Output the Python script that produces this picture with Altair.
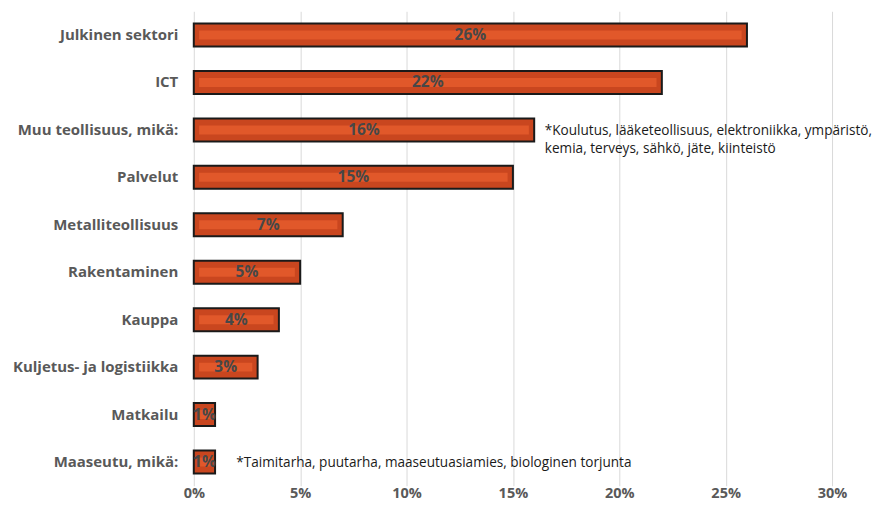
import altair as alt
import pandas as pd

categories = ["Julkinen sektori", "ICT", "Muu teollisuus, mikä:", "Palvelut",
              "Metalliteollisuus", "Rakentaminen", "Kauppa",
              "Kuljetus- ja logistiikka", "Matkailu", "Maaseutu, mikä:"]
values = [0.26, 0.22, 0.16, 0.15, 0.07, 0.05, 0.04, 0.03, 0.01, 0.01]
labels = ["26%", "22%", "16%", "15%", "7%", "5%", "4%", "3%", "1%", "1%"]

note_cats = ["Muu teollisuus, mikä:", "Maaseutu, mikä:"]
note_texts = [["*Koulutus, lääketeollisuus, elektroniikka, ympäristö,",
               "kemia, terveys, sähkö, jäte, kiinteistö"],
              ["*Taimitarha, puutarha, maaseutuasiamies, biologinen torjunta"]]
note_x = [0.165, 0.02]

df = pd.DataFrame({"cat": categories, "val": values, "lab": labels})
notes = pd.DataFrame({"cat": note_cats, "txt": note_texts, "nx": note_x})

FONT = "Open Sans"
xscale = alt.Scale(domain=[0, 0.30])

base = alt.Chart(df)

outer = base.mark_bar(size=23, fill="#C9461F", stroke="#1a1a1a", strokeWidth=2).encode(
    x=alt.X("val:Q", scale=xscale, title=None,
            axis=alt.Axis(format=".0%", values=[0, 0.05, 0.10, 0.15, 0.20, 0.25, 0.30],
                          grid=True, gridColor="#d9d9d9", gridWidth=1,
                          domain=False, ticks=False, labelPadding=1, labelFlush=False,
                          labelFont=FONT, labelFontSize=14.5, labelFontWeight="bold",
                          labelColor="#595959")),
    y=alt.Y("cat:N", sort=categories, title=None,
            axis=alt.Axis(domain=False, ticks=False, labelPadding=16,
                          labelFont=FONT, labelFontSize=15, labelFontWeight="bold",
                          labelColor="#595959", labelLimit=300)),
)

inner = base.transform_calculate(
    s="0.0025", e="max(datum.val - 0.0025, 0.0025)"
).mark_bar(size=9, fill="#E35A2B", opacity=0.9).encode(
    x=alt.X("s:Q", scale=xscale),
    x2="e:Q",
    y=alt.Y("cat:N", sort=categories),
)

text = base.transform_calculate(mid="datum.val / 2").mark_text(
    font=FONT, fontSize=15.5, fontWeight="bold", color="#474747", align="center", baseline="middle"
).encode(
    x=alt.X("mid:Q", scale=xscale),
    y=alt.Y("cat:N", sort=categories),
    text="lab:N",
)

note = alt.Chart(notes).mark_text(
    font=FONT, fontSize=13.6, color="#1a1a1a", align="left", baseline="middle", lineHeight=18, dy=1
).encode(
    x=alt.X("nx:Q", scale=xscale),
    y=alt.Y("cat:N", sort=categories),
    text="txt",
)

chart = alt.layer(outer, inner, text, note).properties(
    width=639, height=475,
    autosize=alt.AutoSizeParams(type="none"),
    padding={"left": 186, "top": 3, "right": 40, "bottom": 22},
).configure_view(stroke=None).configure_scale(bandPaddingInner=0, bandPaddingOuter=0)

chart.save("out.html", embed_options={"renderer": "svg", "actions": False})
